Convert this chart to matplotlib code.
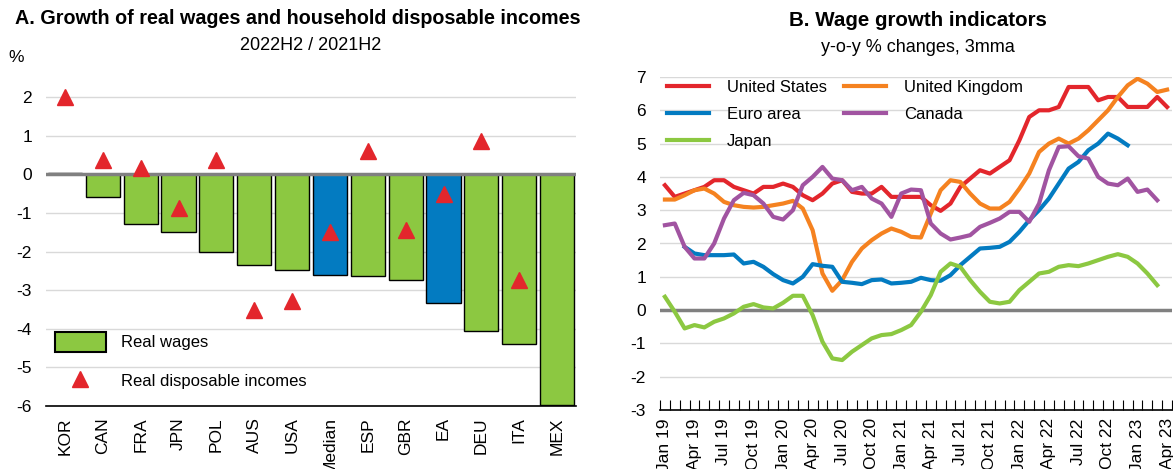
import numpy as np
import matplotlib.pyplot as plt
from matplotlib.patches import Patch
from matplotlib.lines import Line2D

plt.rcParams['font.family'] = ['Liberation Sans', 'DejaVu Sans']
plt.rcParams['axes.unicode_minus'] = False

# --- Panel A: real wages vs real disposable incomes, 2022H2 / 2021H2 ---
countries = ["KOR", "CAN", "FRA", "JPN", "POL", "AUS", "USA", "Median",
             "ESP", "GBR", "EA", "DEU", "ITA", "MEX"]
real_wages = [0.03, -0.6, -1.28, -1.5, -2.0, -2.35, -2.49, -2.62,
              -2.64, -2.73, -3.33, -4.07, -4.4, -5.97]
real_disp_incomes = [2.0, 0.38, 0.17, -0.88, 0.38, -3.52, -3.28, -1.5,
                     0.6, -1.44, -0.5, 0.86, -2.73, np.nan]
highlight = ["Median", "EA"]

# --- Panel B: wage growth indicators, y-o-y % changes, 3mma (Jan 19 - Apr 23) ---
n_months = 52
tick_labels = ["Jan 19", "Apr 19", "Jul 19", "Oct 19", "Jan 20", "Apr 20",
               "Jul 20", "Oct 20", "Jan 21", "Apr 21", "Jul 21", "Oct 21",
               "Jan 22", "Apr 22", "Jul 22", "Oct 22", "Jan 23", "Apr 23"]

us = [3.75, 3.4, 3.5, 3.6, 3.7, 3.9, 3.9, 3.7, 3.6, 3.5, 3.7, 3.7, 3.8, 3.7,
      3.45, 3.3, 3.5, 3.8, 3.9, 3.55, 3.5, 3.5, 3.7, 3.4, 3.4, 3.4, 3.4, 3.15,
      2.98, 3.2, 3.7, 3.95, 4.2, 4.1, 4.3, 4.5, 5.1, 5.8, 6.0, 6.0, 6.1, 6.7,
      6.7, 6.7, 6.3, 6.4, 6.4, 6.1, 6.1, 6.1, 6.4, 6.1]
uk = [3.32, 3.32, 3.45, 3.6, 3.65, 3.5, 3.25, 3.15, 3.1, 3.08, 3.1, 3.15, 3.2,
      3.28, 3.05, 2.4, 1.1, 0.58, 0.9, 1.45, 1.85, 2.1, 2.3, 2.45, 2.35, 2.2,
      2.18, 2.9, 3.6, 3.9, 3.85, 3.5, 3.2, 3.05, 3.05, 3.25, 3.65, 4.1, 4.75,
      5.0, 5.15, 5.0, 5.15, 5.4, 5.7, 6.0, 6.4, 6.75, 6.95, 6.8, 6.55, 6.62]
euro_area = [np.nan, np.nan, 1.9, 1.7, 1.65, 1.65, 1.65, 1.67, 1.4, 1.45, 1.3,
             1.08, 0.9, 0.8, 1.0, 1.38, 1.33, 1.3, 0.85, 0.82, 0.78, 0.9, 0.92,
             0.8, 0.82, 0.85, 0.97, 0.9, 0.88, 1.05, 1.35, 1.6, 1.85, 1.87, 1.9,
             2.05, 2.35, 2.7, 3.0, 3.35, 3.8, 4.25, 4.45, 4.8, 5.0, 5.3, 5.15,
             4.95, np.nan, np.nan, np.nan, np.nan]
canada = [2.55, 2.6, 1.9, 1.55, 1.55, 2.0, 2.75, 3.3, 3.52, 3.45, 3.2, 2.8,
          2.72, 3.0, 3.75, 4.0, 4.3, 3.95, 3.9, 3.6, 3.7, 3.35, 3.2, 2.8, 3.5,
          3.62, 3.6, 2.6, 2.3, 2.12, 2.18, 2.25, 2.5, 2.62, 2.75, 2.95, 2.95,
          2.65, 3.2, 4.2, 4.9, 4.92, 4.62, 4.55, 4.0, 3.8, 3.75, 3.95, 3.55,
          3.62, 3.3, np.nan]
japan = [0.4, -0.05, -0.55, -0.45, -0.52, -0.35, -0.25, -0.1, 0.1, 0.18, 0.08,
         0.05, 0.22, 0.43, 0.43, -0.15, -0.95, -1.45, -1.5, -1.25, -1.05, -0.85,
         -0.75, -0.72, -0.6, -0.45, -0.05, 0.45, 1.15, 1.4, 1.3, 0.9, 0.55,
         0.25, 0.2, 0.25, 0.6, 0.85, 1.1, 1.15, 1.3, 1.35, 1.32, 1.4, 1.5, 1.6,
         1.68, 1.6, 1.4, 1.1, 0.75, np.nan]

GREEN = "#8CC841"
BLUE = "#037BC1"
RED = "#E3262C"
ORANGE = "#F58220"
PURPLE = "#A154A1"
GRID = "#D9D9D9"
ZERO = "#808080"

W, H = 1173, 469
fig = plt.figure(figsize=(W / 100, H / 100), dpi=100)

# axes placed in pixel terms
ax1 = fig.add_axes([46 / W, 63 / H, (576 - 46) / W, (406 - 70) / H])
ax2 = fig.add_axes([660 / W, 59 / H, (1172 - 660) / W, (410 - 77) / H])

# ---------------- Panel A ----------------
x = np.arange(len(countries))
bar_colors = [BLUE if c in highlight else GREEN for c in countries]
ax1.bar(x, real_wages, width=0.9, color=bar_colors, edgecolor="black",
        linewidth=1, zorder=2)
ax1.axhline(0, color=ZERO, lw=2.5, zorder=3)
ax1.plot(x, real_disp_incomes, ls="", marker="^", markersize=12,
         color=RED, zorder=4)

ax1.set_xlim(-0.5, len(countries) - 0.5)
ax1.set_ylim(-6, 2.7)
ax1.set_yticks(range(-6, 3))
ax1.set_xticks(x, countries, rotation=90)
ax1.grid(axis="y", color=GRID, lw=1)
ax1.set_axisbelow(True)
for s in ["top", "right", "left"]:
    ax1.spines[s].set_visible(False)
ax1.spines["bottom"].set_color("black")
ax1.spines["bottom"].set_linewidth(1.2)
ax1.tick_params(axis="both", length=0, labelsize=12.5)
ax1.tick_params(axis="x", pad=8)
ax1.tick_params(axis="y", pad=10)

leg_handles = [Patch(facecolor=GREEN, edgecolor="black", linewidth=1.5),
               Line2D([], [], ls="", marker="^", markersize=12, color=RED)]
ax1.legend(leg_handles, ["Real wages", "Real disposable incomes"],
           loc="upper left", bbox_to_anchor=(0.017, 0.22), frameon=False,
           fontsize=12, handlelength=3.05, handleheight=1.45,
           handletextpad=0.9, labelspacing=1.14, borderpad=0, borderaxespad=0)

fig.text(298 / W, 1 - 18 / H, "A. Growth of real wages and household disposable incomes",
         ha="center", va="center", fontsize=14.2, fontweight="bold")
fig.text(311 / W, 1 - 45 / H, "2022H2 / 2021H2", ha="center", va="center", fontsize=13)
fig.text(16 / W, 1 - 58 / H, "%", ha="center", va="center", fontsize=12.5)

# ---------------- Panel B ----------------
m = np.arange(n_months)
series = [("United States", us, RED), ("United Kingdom", uk, ORANGE),
          ("Euro area", euro_area, BLUE), ("Canada", canada, PURPLE),
          ("Japan", japan, GREEN)]
lines = {}
for k, (name, vals, col) in enumerate(series):
    ln, = ax2.plot(m, vals, color=col, lw=3, zorder=3 + k, label=name)
    lines[name] = ln
ax2.axhline(0, color=ZERO, lw=2.5, zorder=2)

ax2.set_xlim(-0.5, n_months - 0.5)
ax2.set_ylim(-3, 7)
ax2.set_yticks(range(-3, 8))
ax2.set_xticks(np.arange(0, n_months, 3), tick_labels, rotation=90)
ax2.set_xticks(np.arange(-0.5, n_months, 1), minor=True)
ax2.grid(axis="y", color=GRID, lw=1)
ax2.set_axisbelow(True)
for s in ["top", "right", "left"]:
    ax2.spines[s].set_visible(False)
ax2.spines["bottom"].set_color("black")
ax2.spines["bottom"].set_linewidth(1.2)
ax2.tick_params(axis="y", length=0, labelsize=12.5, pad=10)
ax2.tick_params(axis="x", which="major", length=0, labelsize=12.5, pad=6)
ax2.tick_params(axis="x", which="minor", direction="in", length=7, width=0.8)

order = ["United States", "Euro area", "Japan", "United Kingdom", "Canada"]
ax2.legend([lines[n] for n in order], order, ncol=2, loc="upper left",
           bbox_to_anchor=(0.014, 0.99), frameon=False, fontsize=12,
           handlelength=2.5, handletextpad=1.1, columnspacing=1.0,
           labelspacing=0.72, borderpad=0, borderaxespad=0)

fig.text(918 / W, 1 - 20 / H, "B. Wage growth indicators",
         ha="center", va="center", fontsize=14.8, fontweight="bold")
fig.text(918 / W, 1 - 47 / H, "y-o-y % changes, 3mma", ha="center", va="center", fontsize=13)

fig.savefig("out.png", dpi=100)
